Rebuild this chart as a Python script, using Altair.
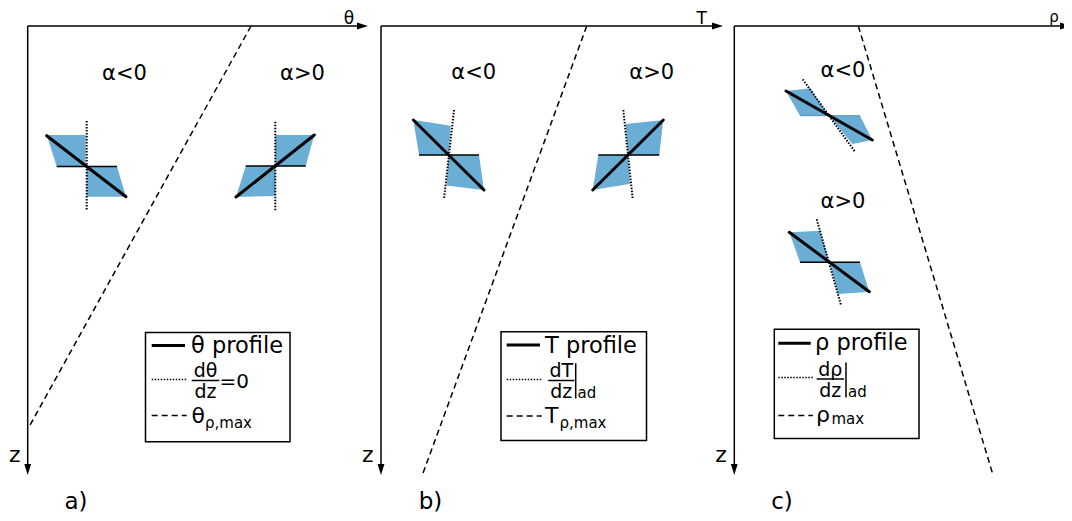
import altair as alt
import pandas as pd

# ---------------- data (image pixel coordinates of the schematic) ----------------
# axes: x1, y1, x2, y2
axis_lines = [
    (27.7, 26, 360, 26), (27.7, 26, 27.7, 466),
    (381, 26, 715, 26), (381, 26, 381, 466),
    (734.3, 26, 1063, 26), (734.3, 26, 734.3, 466),
]
arrow_right_tips = [(368, 26), (723, 26), (1071, 26)]
arrow_down_tips = [(27.7, 475), (381, 475), (734.3, 475)]

# profile max lines (dashed)
max_lines = [
    (251, 26, 28.3, 428.3),
    (586.7, 26, 421.7, 476.7),
    (858.3, 26, 993.3, 476),
]
# profile segments (thick solid)
profile_lines = [
    (46.7, 135.7, 126, 196.7), (236, 197, 314.3, 135),
    (413.3, 120, 484, 190), (592.7, 190, 663.3, 120),
    (786, 91, 872.3, 140), (789.3, 232.3, 869.3, 291.7),
]
# neutral / adiabatic gradient (dotted)
adiabat_lines = [
    (86.7, 121, 86.7, 210.5), (275.3, 121.7, 275.3, 210.7),
    (454, 110, 444, 199), (623.3, 110, 632.7, 199),
    (802.7, 79.3, 855, 151.7), (816.7, 219.3, 841, 305),
]
# horizontal reference lines (thin black)
level_lines = [
    (56.7, 166.5, 117, 166.5), (245.7, 166, 305.7, 166),
    (419, 155, 479, 155), (598.3, 155, 659.3, 155),
    (800, 262.3, 860, 262.3),
]
blue_edge_lines = [(800, 115.7, 860, 115.7)]

# shaded parcels (polygon vertices)
parcels = [
    [(46.7, 135), (85.7, 135), (85.7, 166.5), (56.7, 166.5)],
    [(86.7, 166.5), (117, 166.5), (126, 196.7), (86.7, 196.7)],
    [(275.3, 135), (314.3, 135), (305.7, 166), (275.3, 166)],
    [(245.7, 166), (275.3, 166), (275.3, 196), (236, 197)],
    [(413.3, 120), (450.7, 125.7), (448.7, 155), (419, 155)],
    [(448.7, 155), (479, 155), (484, 190), (446.5, 185.5)],
    [(625.7, 124), (663.3, 120), (659.3, 155), (628, 155)],
    [(598.3, 155), (628, 155), (630, 184), (592.7, 190)],
    [(786, 91), (810, 88.3), (829.3, 115.7), (800, 115.7)],
    [(829.3, 115.7), (860, 115.7), (872.3, 140), (852.3, 144)],
    [(789.3, 232.3), (820, 230.7), (829.3, 262.3), (800, 262.3)],
    [(829.3, 262.3), (860, 262.3), (869.3, 291.7), (838.3, 294)],
]

# legend boxes: x1, y1, x2, y2
legend_boxes = [(145.5, 332.5, 290, 441.7), (501, 331.7, 646.5, 440.5), (774.3, 329.3, 919, 438.5)]
legend_solid = [(151.7, 345.5, 185, 345.5), (506.7, 345, 540, 345), (778.3, 343.3, 810.7, 343.3)]
legend_dotted = [(151.7, 379.5, 186.7, 379.5), (506.7, 379.5, 541.7, 379.5), (778.3, 377.5, 813, 377.5)]
legend_dashed = [(151.7, 415.5, 186.7, 415.5), (506.7, 416, 541.7, 416), (778.3, 415.5, 813, 415.5)]
fraction_bars = [(191.7, 380.5, 219.3, 380.5), (548.3, 380.5, 574.3, 380.5), (816.7, 379, 844, 379)]
eval_bars = [(575.7, 363.3, 575.7, 398.5), (846, 362.5, 846, 397.5)]

# texts: label, x, y(baseline), font size
center_texts = [
    ("α<0", 124.5, 80, 21), ("α>0", 302.5, 80, 21),
    ("α<0", 473.7, 79, 21), ("α>0", 651.7, 79, 21),
    ("α<0", 843, 76.5, 21), ("α>0", 843, 207.5, 21),
    ("θ", 349, 24, 17), ("T", 701.7, 24, 17), ("ρ", 1054, 22, 15),
    ("z", 14.7, 462, 22), ("z", 367.7, 462, 22), ("z", 721, 462, 22),
    ("a)", 76, 509, 23), ("b)", 430.5, 509, 23), ("c)", 782, 509, 23),
    ("dθ", 205.5, 377, 19), ("dz", 205.5, 398, 19),
    ("dT", 561.3, 377, 19), ("dz", 561.3, 398, 19),
    ("dρ", 830.3, 375.5, 19), ("dz", 830.3, 397, 19),
]
left_texts = [
    ("θ profile", 191, 352.5, 22.5), ("=0", 219.5, 387.5, 20),
    ("θ", 191.5, 423, 22), ("ρ,max", 205, 428, 15),
    ("T profile", 545, 352.5, 22.5), ("ad", 577.5, 398, 15),
    ("T", 545, 423, 22), ("ρ,max", 559.5, 428, 15),
    ("ρ profile", 815, 350.3, 22.5), ("ad", 848, 397, 15),
    ("ρ", 816, 421.5, 22), ("max", 831.5, 423.5, 15),
]

# ---------------- chart construction ----------------
FONT = "DejaVu Sans"
BLUE = "#6aaed6"
XS = alt.Scale(domain=[8, 1064], nice=False, zero=False)
YS = alt.Scale(domain=[8, 513], nice=False, zero=False, reverse=True)


def X(f):
    return alt.X(f, type="quantitative", scale=XS, axis=None)


def Y(f):
    return alt.Y(f, type="quantitative", scale=YS, axis=None)


def seg_df(segs):
    return pd.DataFrame(segs, columns=["x1", "y1", "x2", "y2"])


def seg_layer(segs, **mark):
    return alt.Chart(seg_df(segs)).mark_rule(**mark).encode(
        x=X("x1"), y=Y("y1"), x2=alt.X2("x2"), y2=alt.Y2("y2")
    )


def poly_rows(pid, verts):
    xs = sorted(set(v[0] for v in verts))
    n = len(verts)
    rows = []
    for x in xs:
        ys = []
        for i in range(n):
            (xa, ya), (xb, yb) = verts[i], verts[(i + 1) % n]
            if abs(xa - xb) < 1e-9:
                if abs(x - xa) < 1e-9:
                    ys += [ya, yb]
            elif min(xa, xb) - 1e-9 <= x <= max(xa, xb) + 1e-9:
                t = (x - xa) / (xb - xa)
                ys.append(ya + t * (yb - ya))
        rows.append({"pid": pid, "x": x, "y": min(ys), "y2": max(ys)})
    return rows


poly_df = pd.DataFrame([r for i, p in enumerate(parcels) for r in poly_rows(i, p)])

boxes = alt.Chart(seg_df(legend_boxes)).mark_rect(
    fill="white", stroke="black", strokeWidth=1.5
).encode(x=X("x1"), y=Y("y1"), x2=alt.X2("x2"), y2=alt.Y2("y2"))

areas = alt.Chart(poly_df).mark_area(
    color=BLUE, orient="vertical", interpolate="linear", opacity=1
).encode(x=X("x"), y=Y("y"), y2=alt.Y2("y2"), detail="pid:N")

arrow_r = alt.Chart(pd.DataFrame(arrow_right_tips, columns=["x", "y"]).assign(x=lambda d: d.x - 5.5)).mark_point(
    shape="M-1,-0.62L-1,0.62L1,0Z", filled=True, color="black", size=121, opacity=1, strokeWidth=0
).encode(x=X("x"), y=Y("y"))
arrow_d = alt.Chart(pd.DataFrame(arrow_down_tips, columns=["x", "y"]).assign(y=lambda d: d.y - 5.5)).mark_point(
    shape="M-0.62,-1L0.62,-1L0,1Z", filled=True, color="black", size=121, opacity=1, strokeWidth=0
).encode(x=X("x"), y=Y("y"))


def text_layer(items, align):
    df = pd.DataFrame(items, columns=["label", "x", "y", "fs"])
    return alt.Chart(df).mark_text(
        align=align, baseline="alphabetic", font=FONT, color="black"
    ).encode(x=X("x"), y=Y("y"), text="label:N", size=alt.Size("fs:Q", scale=None))


chart = alt.layer(
    boxes,
    areas,
    seg_layer(blue_edge_lines, color="#4f93c4", strokeWidth=1),
    seg_layer(axis_lines, color="black", strokeWidth=1.5),
    arrow_r,
    arrow_d,
    seg_layer(max_lines, color="black", strokeWidth=1.5, strokeDash=[6, 4]),
    seg_layer(level_lines, color="black", strokeWidth=1.5),
    seg_layer(adiabat_lines, color="black", strokeWidth=2, strokeDash=[1.5, 1.5]),
    seg_layer(profile_lines, color="black", strokeWidth=3, strokeCap="round"),
    seg_layer(legend_solid, color="black", strokeWidth=3),
    seg_layer(legend_dotted, color="black", strokeWidth=1.5, strokeDash=[1.5, 1.5]),
    seg_layer(legend_dashed, color="black", strokeWidth=1.5, strokeDash=[6, 4]),
    seg_layer(fraction_bars, color="black", strokeWidth=1.5),
    seg_layer(eval_bars, color="black", strokeWidth=1.5),
    text_layer(center_texts, "center"),
    text_layer(left_texts, "left"),
).properties(
    width=1056, height=505, padding=0, autosize="none", background="white"
).configure_view(stroke=None)

chart.save("out.html", embed_options={"renderer": "svg", "actions": False})
